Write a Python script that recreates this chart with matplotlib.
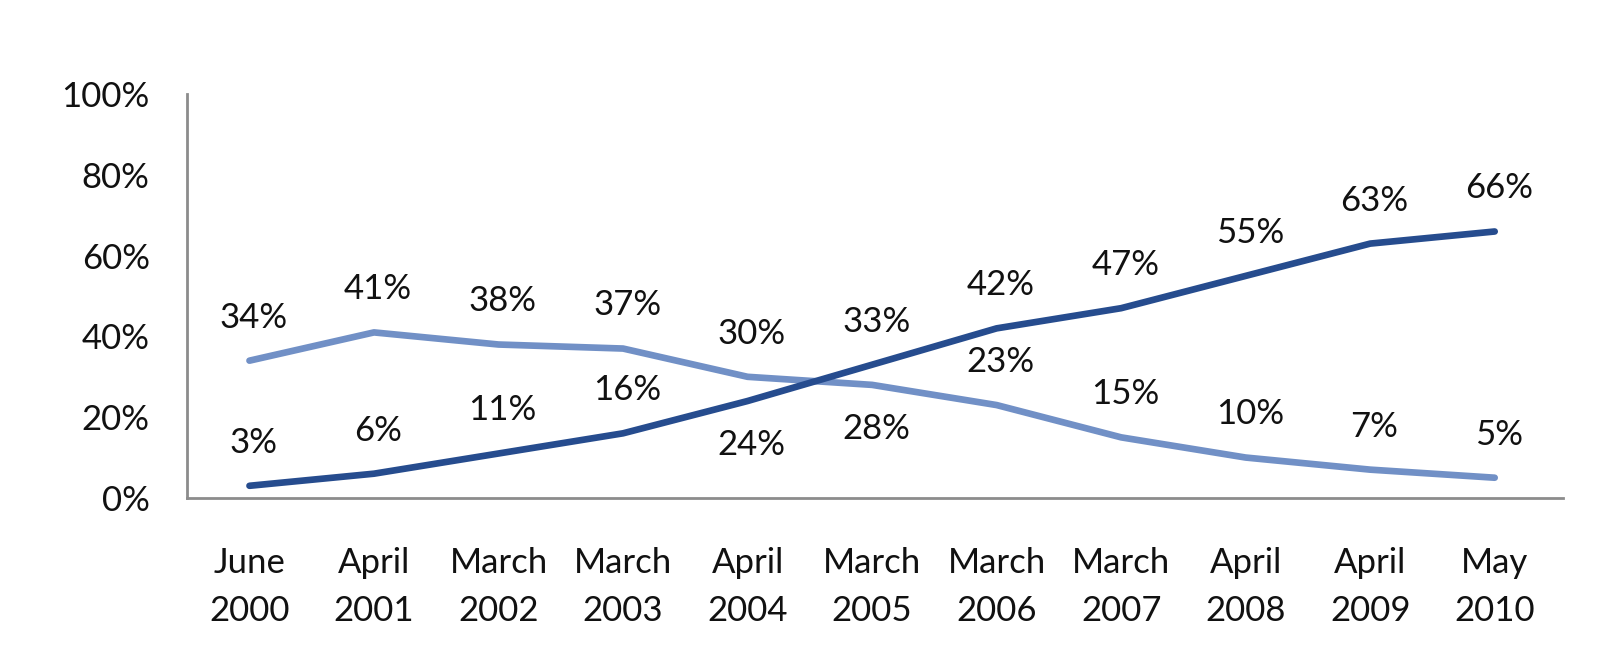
import numpy as np
import matplotlib.pyplot as plt
from matplotlib.ticker import PercentFormatter

plt.rcParams['font.family'] = ['Lato', 'DejaVu Sans']

dates = ['June\n2000', 'April\n2001', 'March\n2002', 'March\n2003', 'April\n2004',
         'March\n2005', 'March\n2006', 'March\n2007', 'April\n2008', 'April\n2009',
         'May\n2010']
dark_vals = [3, 6, 11, 16, 24, 33, 42, 47, 55, 63, 66]
light_vals = [34, 41, 38, 37, 30, 28, 23, 15, 10, 7, 5]
# which labels go under the line instead of above
dark_below = [4]
light_below = [5]

DARK = '#264C8E'
LIGHT = '#7190C6'
TXT = '#111111'

fig = plt.figure(figsize=(16, 6.5), dpi=100)
ax = fig.add_axes([0.117, 0.234, 0.860, 0.621])

x = np.arange(len(dates))
ax.plot(x, light_vals, color=LIGHT, lw=4.8, solid_capstyle='round', solid_joinstyle='round')
ax.plot(x, dark_vals, color=DARK, lw=4.8, solid_capstyle='round', solid_joinstyle='round')

for vals, below in [(dark_vals, dark_below), (light_vals, light_below)]:
    for i, v in enumerate(vals):
        dy = -32 if i in below else 31
        ax.annotate(f'{v}%', (i, v), xytext=(3, dy), textcoords='offset points',
                    ha='center', va='center', fontsize=25, color=TXT)

ax.set_xlim(-0.5, len(dates) - 0.45)
ax.set_ylim(0, 100)
ax.set_yticks(range(0, 101, 20))
ax.yaxis.set_major_formatter(PercentFormatter(decimals=0))
ax.set_xticks(x)
ax.set_xticklabels(dates, linespacing=1.65)
ax.tick_params(axis='y', length=0, pad=27, labelsize=25, labelcolor=TXT)
ax.tick_params(axis='x', length=0, pad=35, labelsize=25, labelcolor=TXT)

for s in ['top', 'right']:
    ax.spines[s].set_visible(False)
for s in ['left', 'bottom']:
    ax.spines[s].set_color('#8c8c8c')
    ax.spines[s].set_linewidth(2)

fig.savefig('out.png', dpi=100)
